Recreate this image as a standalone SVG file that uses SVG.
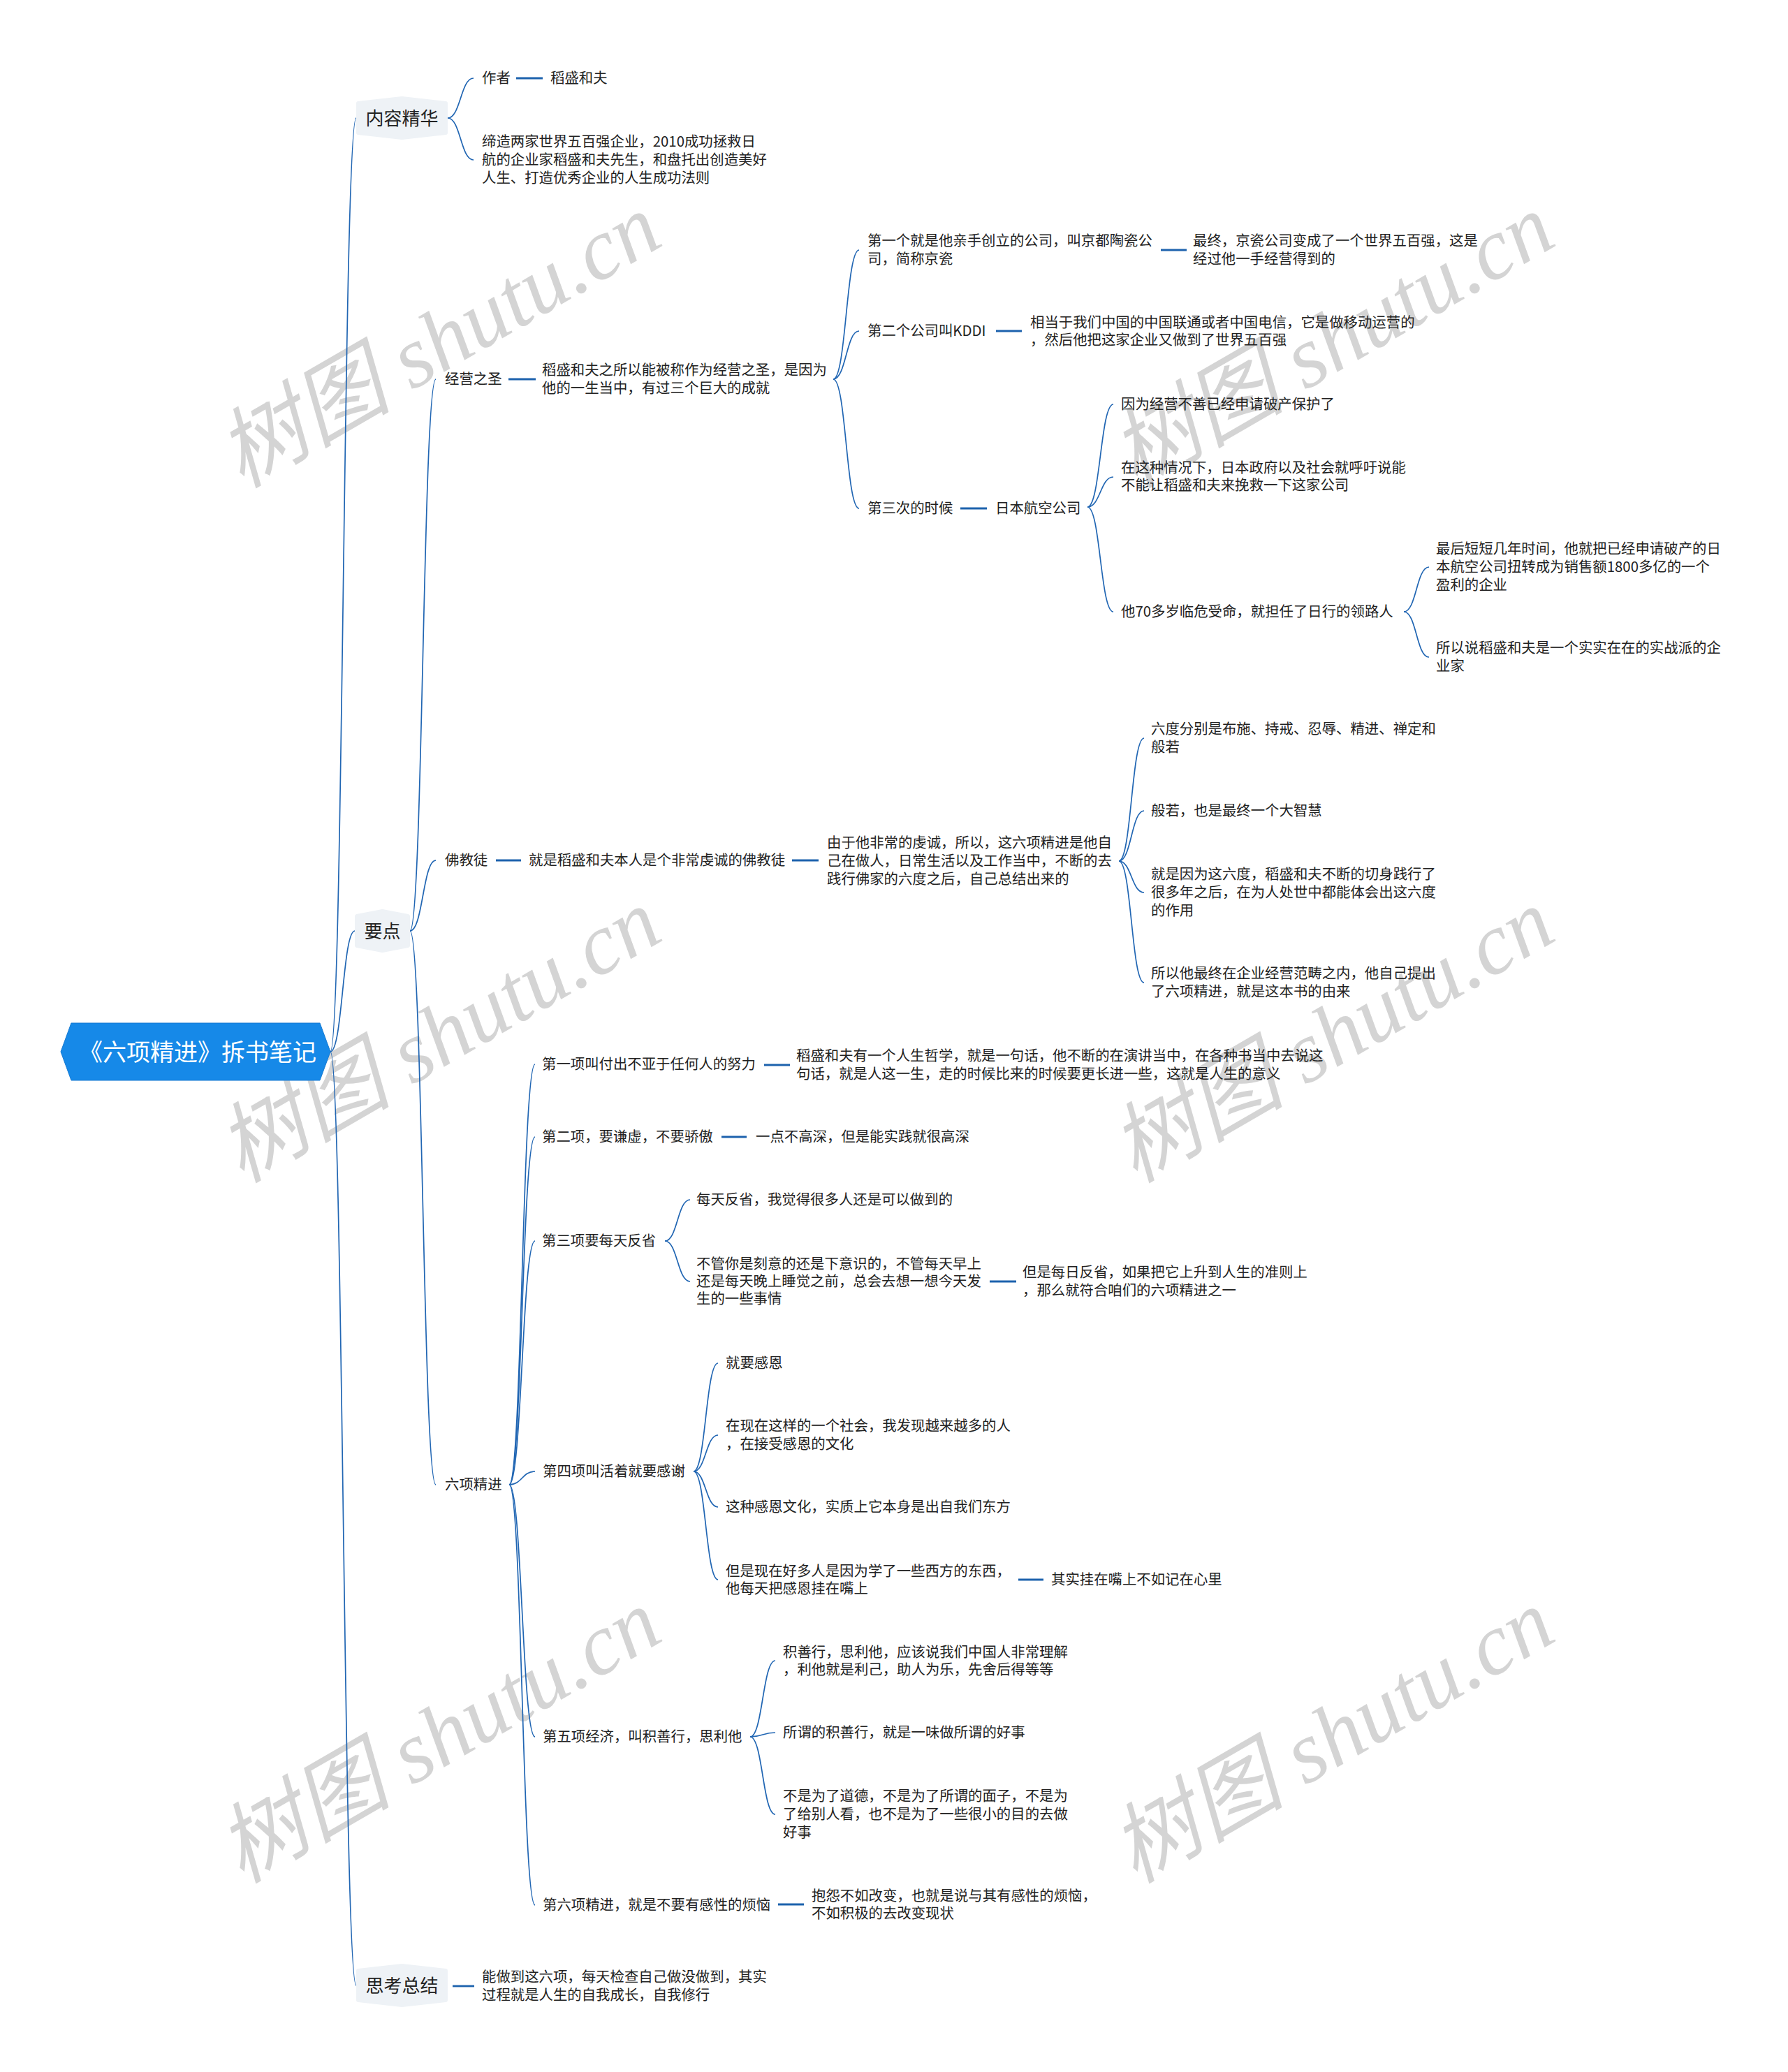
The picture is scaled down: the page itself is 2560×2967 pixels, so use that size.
<svg xmlns="http://www.w3.org/2000/svg" width="2560" height="2967" viewBox="0 0 2560 2967">
<style>
.t{font-family:"Noto Sans CJK SC","Liberation Sans",sans-serif;font-size:20.4px;fill:#222}
.l1{font-family:"Noto Sans CJK SC","Liberation Sans",sans-serif;font-size:26px;fill:#222;text-anchor:middle}
.rt{font-family:"Noto Sans CJK SC","Liberation Sans",sans-serif;font-size:34px;fill:#fff;text-anchor:middle}
.hx{fill:#eef2f6;stroke:#eef2f6;stroke-width:6;stroke-linejoin:round}
.c{fill:none;stroke:#2166b3;stroke-width:1.7}
.s{fill:none;stroke:#1d62ad;stroke-width:2.8}
.wm{font-family:"Liberation Serif","Noto Sans CJK SC",serif;font-style:italic;font-size:125px;fill:#d4d4d4}
.wc{font-family:"Noto Sans CJK SC",sans-serif}
</style>
<g id="watermarks">
<text class="wm" x="346" y="700" transform="rotate(-30 346 700)"><tspan class="wc">树图</tspan> shutu.cn</text>
<text class="wm" x="1625" y="700" transform="rotate(-30 1625 700)"><tspan class="wc">树图</tspan> shutu.cn</text>
<text class="wm" x="346" y="1695" transform="rotate(-30 346 1695)"><tspan class="wc">树图</tspan> shutu.cn</text>
<text class="wm" x="1625" y="1695" transform="rotate(-30 1625 1695)"><tspan class="wc">树图</tspan> shutu.cn</text>
<text class="wm" x="346" y="2698" transform="rotate(-30 346 2698)"><tspan class="wc">树图</tspan> shutu.cn</text>
<text class="wm" x="1625" y="2698" transform="rotate(-30 1625 2698)"><tspan class="wc">树图</tspan> shutu.cn</text>
</g>
<g id="connectors">
<path class="c" d="M473,1506 C491.5,1506 491.5,169 510,169"/>
<path class="c" d="M473,1506 C490.5,1506 490.5,1333 508,1333"/>
<path class="c" d="M473,1506 C491.5,1506 491.5,2843 510,2843"/>
<path class="c" d="M641,169 C659.5,169 659.5,112 678,112"/>
<path class="c" d="M641,169 C659.5,169 659.5,229 678,229"/>
<path class="c" d="M587,1333 C605.5,1333 605.5,543 624,543"/>
<path class="c" d="M587,1333 C605.5,1333 605.5,1232 624,1232"/>
<path class="c" d="M587,1333 C605.5,1333 605.5,2126 624,2126"/>
<path class="c" d="M1193,543 C1211.5,543 1211.5,358 1230,358"/>
<path class="c" d="M1193,543 C1211.5,543 1211.5,474 1230,474"/>
<path class="c" d="M1193,543 C1211.5,543 1211.5,728 1230,728"/>
<path class="c" d="M1557,726 C1575.5,726 1575.5,579 1594,579"/>
<path class="c" d="M1557,726 C1575.5,726 1575.5,683 1594,683"/>
<path class="c" d="M1557,726 C1575.5,726 1575.5,876 1594,876"/>
<path class="c" d="M2010,876 C2028,876 2028,812 2046,812"/>
<path class="c" d="M2010,876 C2028,876 2028,941 2046,941"/>
<path class="c" d="M1602,1233 C1620,1233 1620,1057 1638,1057"/>
<path class="c" d="M1602,1233 C1620,1233 1620,1161 1638,1161"/>
<path class="c" d="M1602,1233 C1620,1233 1620,1278 1638,1278"/>
<path class="c" d="M1602,1233 C1620,1233 1620,1407 1638,1407"/>
<path class="c" d="M729,2126 C747.5,2126 747.5,1524 766,1524"/>
<path class="c" d="M729,2126 C747.5,2126 747.5,1628 766,1628"/>
<path class="c" d="M729,2126 C747.5,2126 747.5,1777 766,1777"/>
<path class="c" d="M729,2126 C747.5,2126 747.5,2107 766,2107"/>
<path class="c" d="M729,2126 C747.5,2126 747.5,2487 766,2487"/>
<path class="c" d="M729,2126 C747.5,2126 747.5,2728 766,2728"/>
<path class="c" d="M952,1777 C970,1777 970,1718 988,1718"/>
<path class="c" d="M952,1777 C970,1777 970,1835 988,1835"/>
<path class="c" d="M993,2107 C1010.5,2107 1010.5,1952 1028,1952"/>
<path class="c" d="M993,2107 C1010.5,2107 1010.5,2055 1028,2055"/>
<path class="c" d="M993,2107 C1010.5,2107 1010.5,2158 1028,2158"/>
<path class="c" d="M993,2107 C1010.5,2107 1010.5,2262 1028,2262"/>
<path class="c" d="M1074,2487 C1092,2487 1092,2378 1110,2378"/>
<path class="c" d="M1074,2487 C1092,2487 1092,2481 1110,2481"/>
<path class="c" d="M1074,2487 C1092,2487 1092,2598 1110,2598"/>
<path class="s" d="M739,112 H777"/>
<path class="s" d="M728,543 H767"/>
<path class="s" d="M1662,358 H1699"/>
<path class="s" d="M1426,474 H1463"/>
<path class="s" d="M1375,728 H1413"/>
<path class="s" d="M710,1232 H746"/>
<path class="s" d="M1134,1232 H1172"/>
<path class="s" d="M1094,1525 H1131"/>
<path class="s" d="M1033,1628 H1069"/>
<path class="s" d="M1417,1835 H1455"/>
<path class="s" d="M1458,2262 H1494"/>
<path class="s" d="M1114,2727 H1151"/>
<path class="s" d="M648,2844 H679"/>
</g>
<g id="root">
<polygon points="87,1506 102,1465 458,1465 473,1506 458,1547 102,1547" fill="#1689e8" stroke="#1479d2" stroke-width="1"/>
<text class="rt" x="283" y="1519">《六项精进》拆书笔记</text>
</g>
<g id="n-neirong">
<polygon class="hx" points="513,148 575.5,141 638,148 638,190 575.5,197 513,190"/>
<text class="l1" x="575.5" y="179">内容精华</text>
</g>
<g id="n-yaodian">
<polygon class="hx" points="511,1312 547.5,1305 584,1312 584,1354 547.5,1361 511,1354"/>
<text class="l1" x="547.5" y="1343">要点</text>
</g>
<g id="n-sikao">
<polygon class="hx" points="513,2822 575.5,2815 638,2822 638,2864 575.5,2871 513,2864"/>
<text class="l1" x="575.5" y="2853">思考总结</text>
</g>
<g id="n-zuozhe"><text class="t" x="690" y="119">作者</text></g>
<g id="n-daosheng"><text class="t" x="788" y="119">稻盛和夫</text></g>
<g id="n-dizao"><text class="t" x="690" y="210">缔造两家世界五百强企业，2010成功拯救日</text><text class="t" x="690" y="236">航的企业家稻盛和夫先生，和盘托出创造美好</text><text class="t" x="690" y="262">人生、打造优秀企业的人生成功法则</text></g>
<g id="n-jingying"><text class="t" x="637" y="550">经营之圣</text></g>
<g id="n-jingying-a"><text class="t" x="776" y="537">稻盛和夫之所以能被称作为经营之圣，是因为</text><text class="t" x="776" y="563">他的一生当中，有过三个巨大的成就</text></g>
<g id="n-first"><text class="t" x="1242" y="352">第一个就是他亲手创立的公司，叫京都陶瓷公</text><text class="t" x="1242" y="378">司，简称京瓷</text></g>
<g id="n-first-a"><text class="t" x="1708" y="352">最终，京瓷公司变成了一个世界五百强，这是</text><text class="t" x="1708" y="378">经过他一手经营得到的</text></g>
<g id="n-second"><text class="t" x="1242" y="481">第二个公司叫KDDI</text></g>
<g id="n-second-a"><text class="t" x="1475" y="469">相当于我们中国的中国联通或者中国电信，它是做移动运营的</text><text class="t" x="1475" y="494">，然后他把这家企业又做到了世界五百强</text></g>
<g id="n-third"><text class="t" x="1242" y="735">第三次的时候</text></g>
<g id="n-jal"><text class="t" x="1425" y="735">日本航空公司</text></g>
<g id="n-jal-1"><text class="t" x="1605" y="586">因为经营不善已经申请破产保护了</text></g>
<g id="n-jal-2"><text class="t" x="1605" y="677">在这种情况下，日本政府以及社会就呼吁说能</text><text class="t" x="1605" y="702">不能让稻盛和夫来挽救一下这家公司</text></g>
<g id="n-jal-3"><text class="t" x="1605" y="883">他70多岁临危受命，就担任了日行的领路人</text></g>
<g id="n-jal-3a"><text class="t" x="2056" y="793">最后短短几年时间，他就把已经申请破产的日</text><text class="t" x="2056" y="819">本航空公司扭转成为销售额1800多亿的一个</text><text class="t" x="2056" y="845">盈利的企业</text></g>
<g id="n-jal-3b"><text class="t" x="2056" y="935">所以说稻盛和夫是一个实实在在的实战派的企</text><text class="t" x="2056" y="961">业家</text></g>
<g id="n-fojiao"><text class="t" x="637" y="1239">佛教徒</text></g>
<g id="n-fojiao-a"><text class="t" x="757" y="1239">就是稻盛和夫本人是个非常虔诚的佛教徒</text></g>
<g id="n-fojiao-b"><text class="t" x="1184" y="1214">由于他非常的虔诚，所以，这六项精进是他自</text><text class="t" x="1184" y="1240">己在做人，日常生活以及工作当中，不断的去</text><text class="t" x="1184" y="1266">践行佛家的六度之后，自己总结出来的</text></g>
<g id="n-liudu-1"><text class="t" x="1648" y="1051">六度分别是布施、持戒、忍辱、精进、禅定和</text><text class="t" x="1648" y="1077">般若</text></g>
<g id="n-liudu-2"><text class="t" x="1648" y="1168">般若，也是最终一个大智慧</text></g>
<g id="n-liudu-3"><text class="t" x="1648" y="1259">就是因为这六度，稻盛和夫不断的切身践行了</text><text class="t" x="1648" y="1285">很多年之后，在为人处世中都能体会出这六度</text><text class="t" x="1648" y="1311">的作用</text></g>
<g id="n-liudu-4"><text class="t" x="1648" y="1401">所以他最终在企业经营范畴之内，他自己提出</text><text class="t" x="1648" y="1427">了六项精进，就是这本书的由来</text></g>
<g id="n-liuxiang"><text class="t" x="637" y="2133">六项精进</text></g>
<g id="n-item1"><text class="t" x="776" y="1531">第一项叫付出不亚于任何人的努力</text></g>
<g id="n-item1-a"><text class="t" x="1140" y="1519">稻盛和夫有一个人生哲学，就是一句话，他不断的在演讲当中，在各种书当中去说这</text><text class="t" x="1140" y="1545">句话，就是人这一生，走的时候比来的时候要更长进一些，这就是人生的意义</text></g>
<g id="n-item2"><text class="t" x="776" y="1635">第二项，要谦虚，不要骄傲</text></g>
<g id="n-item2-a"><text class="t" x="1082" y="1635">一点不高深，但是能实践就很高深</text></g>
<g id="n-item3"><text class="t" x="776" y="1784">第三项要每天反省</text></g>
<g id="n-item3-a"><text class="t" x="997" y="1725">每天反省，我觉得很多人还是可以做到的</text></g>
<g id="n-item3-b"><text class="t" x="997" y="1817">不管你是刻意的还是下意识的，不管每天早上</text><text class="t" x="997" y="1842">还是每天晚上睡觉之前，总会去想一想今天发</text><text class="t" x="997" y="1867">生的一些事情</text></g>
<g id="n-item3-b1"><text class="t" x="1464" y="1829">但是每日反省，如果把它上升到人生的准则上</text><text class="t" x="1464" y="1855">，那么就符合咱们的六项精进之一</text></g>
<g id="n-item4"><text class="t" x="777" y="2114">第四项叫活着就要感谢</text></g>
<g id="n-item4-a"><text class="t" x="1039" y="1959">就要感恩</text></g>
<g id="n-item4-b"><text class="t" x="1039" y="2049">在现在这样的一个社会，我发现越来越多的人</text><text class="t" x="1039" y="2075">，在接受感恩的文化</text></g>
<g id="n-item4-c"><text class="t" x="1039" y="2165">这种感恩文化，实质上它本身是出自我们东方</text></g>
<g id="n-item4-d"><text class="t" x="1039" y="2257">但是现在好多人是因为学了一些西方的东西，</text><text class="t" x="1039" y="2282">他每天把感恩挂在嘴上</text></g>
<g id="n-item4-d1"><text class="t" x="1505" y="2269">其实挂在嘴上不如记在心里</text></g>
<g id="n-item5"><text class="t" x="777" y="2494">第五项经济，叫积善行，思利他</text></g>
<g id="n-item5-a"><text class="t" x="1121" y="2373">积善行，思利他，应该说我们中国人非常理解</text><text class="t" x="1121" y="2398">，利他就是利己，助人为乐，先舍后得等等</text></g>
<g id="n-item5-b"><text class="t" x="1121" y="2488">所谓的积善行，就是一味做所谓的好事</text></g>
<g id="n-item5-c"><text class="t" x="1121" y="2579">不是为了道德，不是为了所谓的面子，不是为</text><text class="t" x="1121" y="2605">了给别人看，也不是为了一些很小的目的去做</text><text class="t" x="1121" y="2631">好事</text></g>
<g id="n-item6"><text class="t" x="777" y="2735">第六项精进，就是不要有感性的烦恼</text></g>
<g id="n-item6-a"><text class="t" x="1162" y="2722">抱怨不如改变，也就是说与其有感性的烦恼，</text><text class="t" x="1162" y="2747">不如积极的去改变现状</text></g>
<g id="n-sikao-a"><text class="t" x="690" y="2838">能做到这六项，每天检查自己做没做到，其实</text><text class="t" x="690" y="2864">过程就是人生的自我成长，自我修行</text></g>
</svg>
